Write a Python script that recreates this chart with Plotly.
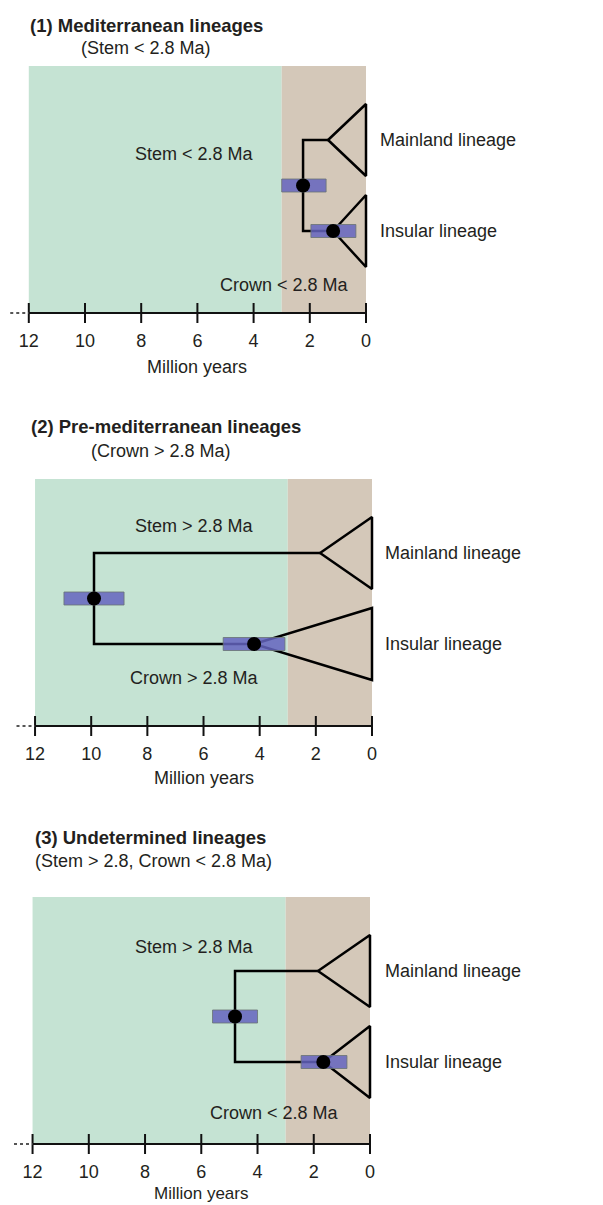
import plotly.graph_objects as go

# ---------------- data ----------------
panel_titles = ["(1) Mediterranean lineages", "(2) Pre-mediterranean lineages", "(3) Undetermined lineages"]
panel_subtitles = ["(Stem < 2.8 Ma)", "(Crown > 2.8 Ma)", "(Stem > 2.8, Crown < 2.8 Ma)"]
stem_labels = ["Stem < 2.8 Ma", "Stem > 2.8 Ma", "Stem > 2.8 Ma"]
crown_labels = ["Crown < 2.8 Ma", "Crown > 2.8 Ma", "Crown < 2.8 Ma"]
tip_labels = ["Mainland lineage", "Insular lineage"]

stem_age = [2.24, 9.9, 4.8]
stem_hpd_old = [3.0, 10.97, 5.6]
stem_hpd_young = [1.42, 8.83, 4.0]
crown_age = [1.17, 4.2, 1.66]
crown_hpd_old = [1.96, 5.3, 2.45]
crown_hpd_young = [0.36, 3.1, 0.82]
mainland_crown_age = [1.35, 1.85, 1.85]

shade_boundary = 3.0
axis_max = 12
tick_values = [12, 10, 8, 6, 4, 2, 0]
tick_text = ["12", "10", "8", "6", "4", "2", "0"]
axis_title = "Million years"

# ---------------- layout geometry (viewport pixels) ----------------
W, H = 603, 1205
OFF = 8                          # default page body margin
axis_px = [313, 726, 1144]      # pixel row of each time axis
zero_px = [366, 372, 370]       # pixel column of 0 Ma
ppu = [28.1, 28.08, 28.12]      # pixels per Ma
top_px = [8, 396, 814]
below = 12

y_main, y_ins, half_tri, bar_half, bg_top = 173, 82, 36, 6.5, 247
stem_lab_pos = [(194, 159), (194, 200), (194, 197)]
crown_lab_pos = [(284, 28), (194, 48), (274, 31)]
title_pos = [(28, 288), (29, 299), (33, 307)]
sub_pos = [(146, 265, "center"), (161, 275, "center"), (33, 283, "left")]
tip_px = [378, 383, 383]
axis_title_dy = [54, 52, 49]
axis_title_size = [18, 18, 17]

GREEN = "#c5e3d3"
TAN = "#d4c8b9"
BAR = "rgba(100,100,190,0.85)"
BAR_EDGE = "rgba(105,115,115,0.8)"
TXT = "#231f20"
FONT = "Liberation Sans, Arial, sans-serif"

fig = go.Figure()
layout = dict(width=W, height=H, margin=dict(l=0, r=0, t=0, b=0),
              paper_bgcolor="white", plot_bgcolor="rgba(0,0,0,0)",
              showlegend=False, font=dict(family=FONT, color=TXT, size=18))
shapes, annotations = [], []

for i in range(3):
    sfx = "" if i == 0 else str(i + 1)
    xr, yr = "x" + sfx, "y" + sfx
    P, Z, k = axis_px[i] - OFF, zero_px[i] - OFF, ppu[i]
    T = top_px[i] - OFF
    xl = Z / k
    xrng = [xl, xl - W / k]
    yb_px = P + below
    dom = [(H - yb_px) / H, (H - T) / H]
    yrng = [-below, P - T]

    def px2v(px, Z=Z, k=k):
        return (Z - (px - OFF)) / k

    layout["xaxis" + sfx] = dict(domain=[0, 1], range=xrng, anchor=yr,
                                 showgrid=False, zeroline=False, showline=False,
                                 tickvals=tick_values, ticktext=tick_text, ticks="",
                                 tickfont=dict(size=18, color=TXT), ticklabelstandoff=3,
                                 fixedrange=True)
    layout["yaxis" + sfx] = dict(domain=dom, range=yrng, anchor=xr, visible=False,
                                 showgrid=False, zeroline=False, fixedrange=True)

    # background periods
    shapes.append(dict(type="rect", xref=xr, yref=yr, x0=axis_max, x1=shade_boundary,
                       y0=0, y1=bg_top, fillcolor=GREEN, line_width=0, layer="below"))
    shapes.append(dict(type="rect", xref=xr, yref=yr, x0=shade_boundary, x1=0,
                       y0=0, y1=bg_top, fillcolor=TAN, line_width=0, layer="below"))

    # axis line + ticks
    fig.add_trace(go.Scatter(x=[axis_max, 0], y=[0, 0], mode="lines",
                             line=dict(color="#111", width=2), xaxis=xr, yaxis=yr, hoverinfo="skip"))
    tx, ty = [], []
    for t in tick_values:
        tx += [t, t, None]
        ty += [-10, 10, None]
    fig.add_trace(go.Scatter(x=tx, y=ty, mode="lines", line=dict(color="#111", width=2),
                             xaxis=xr, yaxis=yr, hoverinfo="skip"))
    fig.add_trace(go.Scatter(x=[axis_max + 0.66, axis_max], y=[0, 0], mode="lines",
                             line=dict(color="#555", width=2, dash="dot"),
                             xaxis=xr, yaxis=yr, hoverinfo="skip"))

    # tree
    fig.add_trace(go.Scatter(
        x=[mainland_crown_age[i], stem_age[i], stem_age[i], crown_age[i]],
        y=[y_main, y_main, y_ins, y_ins], mode="lines",
        line=dict(color="black", width=2.5), xaxis=xr, yaxis=yr, hoverinfo="skip"))
    for apex, yc in [(mainland_crown_age[i], y_main), (crown_age[i], y_ins)]:
        fig.add_trace(go.Scatter(
            x=[apex, 0, 0, apex], y=[yc, yc + half_tri, yc - half_tri, yc], mode="lines",
            line=dict(color="black", width=2.5), xaxis=xr, yaxis=yr, hoverinfo="skip"))
    ystem = (y_main + y_ins) / 2
    for lo, hi, yc in [(stem_hpd_old[i], stem_hpd_young[i], ystem),
                       (crown_hpd_old[i], crown_hpd_young[i], y_ins)]:
        fig.add_trace(go.Scatter(
            x=[lo, hi, hi, lo, lo],
            y=[yc - bar_half, yc - bar_half, yc + bar_half, yc + bar_half, yc - bar_half],
            mode="lines", fill="toself", fillcolor=BAR, line=dict(color=BAR_EDGE, width=1),
            xaxis=xr, yaxis=yr, hoverinfo="skip"))
    fig.add_trace(go.Scatter(x=[stem_age[i], crown_age[i]], y=[ystem, y_ins], mode="markers",
                             marker=dict(color="black", size=14), xaxis=xr, yaxis=yr,
                             hoverinfo="skip"))

    # texts
    ann = dict(xref=xr, yref=yr, showarrow=False, yanchor="middle",
               font=dict(family=FONT, size=18, color=TXT))
    annotations.append(dict(ann, x=px2v(stem_lab_pos[i][0]), y=stem_lab_pos[i][1],
                            text=stem_labels[i], xanchor="center"))
    annotations.append(dict(ann, x=px2v(crown_lab_pos[i][0]), y=crown_lab_pos[i][1],
                            text=crown_labels[i], xanchor="center"))
    annotations.append(dict(ann, x=px2v(tip_px[i]), y=y_main, text=tip_labels[0], xanchor="left"))
    annotations.append(dict(ann, x=px2v(tip_px[i]), y=y_ins, text=tip_labels[1], xanchor="left"))
    annotations.append(dict(ann, x=px2v(title_pos[i][0]), y=title_pos[i][1],
                            text="<b>" + panel_titles[i] + "</b>", xanchor="left",
                            font=dict(family=FONT, size=18.5, color=TXT)))
    annotations.append(dict(ann, x=px2v(sub_pos[i][0]), y=sub_pos[i][1],
                            text=panel_subtitles[i], xanchor=sub_pos[i][2]))
    annotations.append(dict(xref=xr, yref="paper", x=axis_max / 2,
                            y=(H - (P + axis_title_dy[i])) / H, showarrow=False,
                            yanchor="middle", xanchor="center", text=axis_title,
                            font=dict(family=FONT, size=axis_title_size[i], color=TXT)))

layout["shapes"] = shapes
layout["annotations"] = annotations
fig.update_layout(**layout)
fig.write_html("out.html")
